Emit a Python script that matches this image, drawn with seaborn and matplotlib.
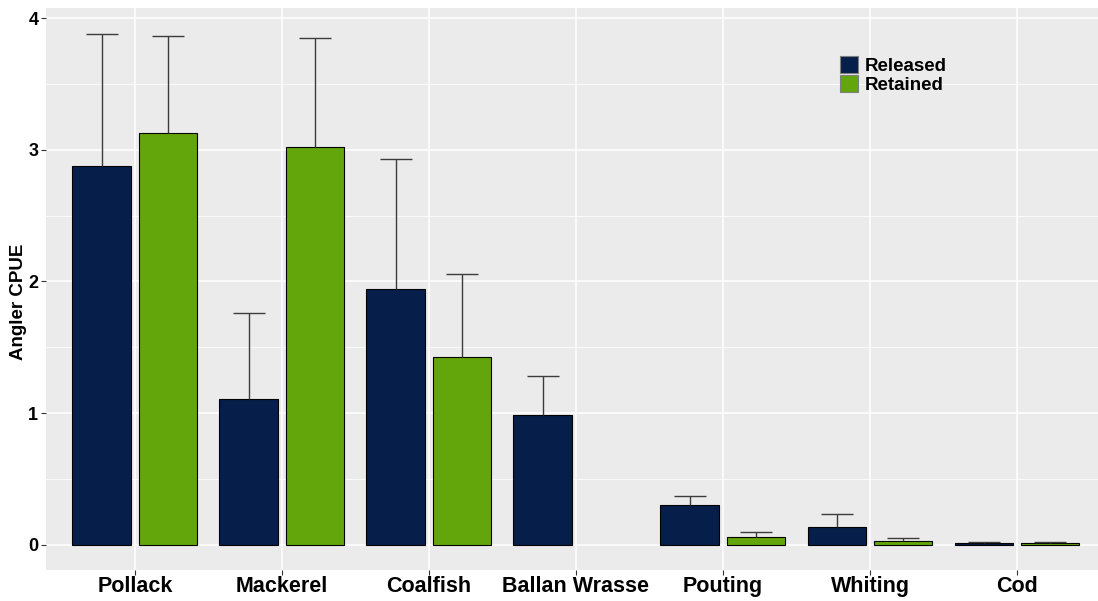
import numpy as np
import pandas as pd
import matplotlib
matplotlib.use("Agg")
import matplotlib.pyplot as plt
from matplotlib.patches import Patch
from matplotlib.ticker import MultipleLocator
import seaborn as sns

# Angler catch-per-unit-effort by species, split by fate of the fish
species = ["Pollack", "Mackerel", "Coalfish", "Ballan Wrasse", "Pouting", "Whiting", "Cod"]
released_mean = [2.88, 1.11, 1.94, 0.99, 0.30, 0.14, 0.012]
released_upper = [3.88, 1.76, 2.93, 1.28, 0.37, 0.235, 0.02]
retained_mean = [3.13, 3.02, 1.43, np.nan, 0.06, 0.03, 0.012]
retained_upper = [3.86, 3.85, 2.06, np.nan, 0.10, 0.053, 0.02]
groups = ["Released", "Retained"]
colors = {"Released": "#061E4A", "Retained": "#63A60B"}

df = pd.DataFrame({
    "species": species * 2,
    "fate": [groups[0]] * len(species) + [groups[1]] * len(species),
    "cpue": released_mean + retained_mean,
    "upper": released_upper + retained_upper,
})

sns.set_theme(style="darkgrid")
plt.rcParams["font.family"] = ["Liberation Sans", "DejaVu Sans"]
plt.rcParams["text.color"] = "black"

fig = plt.figure(figsize=(10.98, 6.01), dpi=100)
ax = fig.add_axes([46 / 1098, 31 / 601, 1 - 46 / 1098, 562 / 601])
ax.set_facecolor("#EBEBEB")

sns.barplot(data=df.dropna(subset=["cpue"]), x="species", y="cpue", hue="fate",
            order=species, hue_order=groups, palette=colors, width=0.9, saturation=1,
            edgecolor="black", linewidth=0.8, errorbar=None, legend=False, ax=ax)

# narrow each dodged bar slightly, keeping its centre
bar_w = 0.4
for p in ax.patches:
    cx = p.get_x() + p.get_width() / 2
    p.set_width(bar_w)
    p.set_x(cx - bar_w / 2)

# upper-only error bars
offsets = {"Released": -0.225, "Retained": 0.225}
cap = 0.11
for _, row in df.dropna(subset=["cpue"]).iterrows():
    xc = species.index(row["species"]) + offsets[row["fate"]]
    ax.vlines(xc, row["cpue"], row["upper"], color="#3C3C3C", lw=1.0, zorder=3)
    ax.hlines(row["upper"], xc - cap, xc + cap, color="#3C3C3C", lw=1.0, zorder=3)

ax.set_xlim(-0.605, (1098 - 135) / 147)
ax.set_ylim(-0.19, 4.076)
ax.yaxis.set_major_locator(MultipleLocator(1))
ax.yaxis.set_minor_locator(MultipleLocator(0.5))
ax.grid(which="major", color="white", lw=1.1)
ax.grid(which="minor", axis="y", color="white", lw=0.55)
ax.set_axisbelow(True)
for s in ax.spines.values():
    s.set_visible(False)

ax.tick_params(axis="both", which="major", length=3.5, width=0.8, color="#333333",
               bottom=True, left=True)
ax.tick_params(axis="y", which="minor", length=0)
ax.tick_params(axis="x", labelsize=15.5, pad=1)
ax.tick_params(axis="y", labelsize=13, pad=2)
for lab in ax.get_xticklabels() + ax.get_yticklabels():
    lab.set_fontweight("bold")
    lab.set_color("black")

ax.set_xlabel("")
ax.set_ylabel("")
fig.text(19 / 1098, 1 - 302 / 601, "Angler CPUE", rotation=90, ha="center", va="center",
         fontsize=13.5, fontweight="bold", color="black")

handles = [Patch(facecolor=colors[g], edgecolor="#7F7F7F", lw=0.8, label=g) for g in groups]
leg = fig.legend(handles=handles, loc="upper left", bbox_to_anchor=(840 / 1098, 1 - 56 / 601),
                 frameon=False, prop={"size": 13.5, "weight": "bold"}, handlelength=0.95,
                 handleheight=1.0, handletextpad=0.35, labelspacing=0.0, borderpad=0,
                 borderaxespad=0)
for t in leg.get_texts():
    t.set_color("black")

fig.savefig("out.png", dpi=100)
